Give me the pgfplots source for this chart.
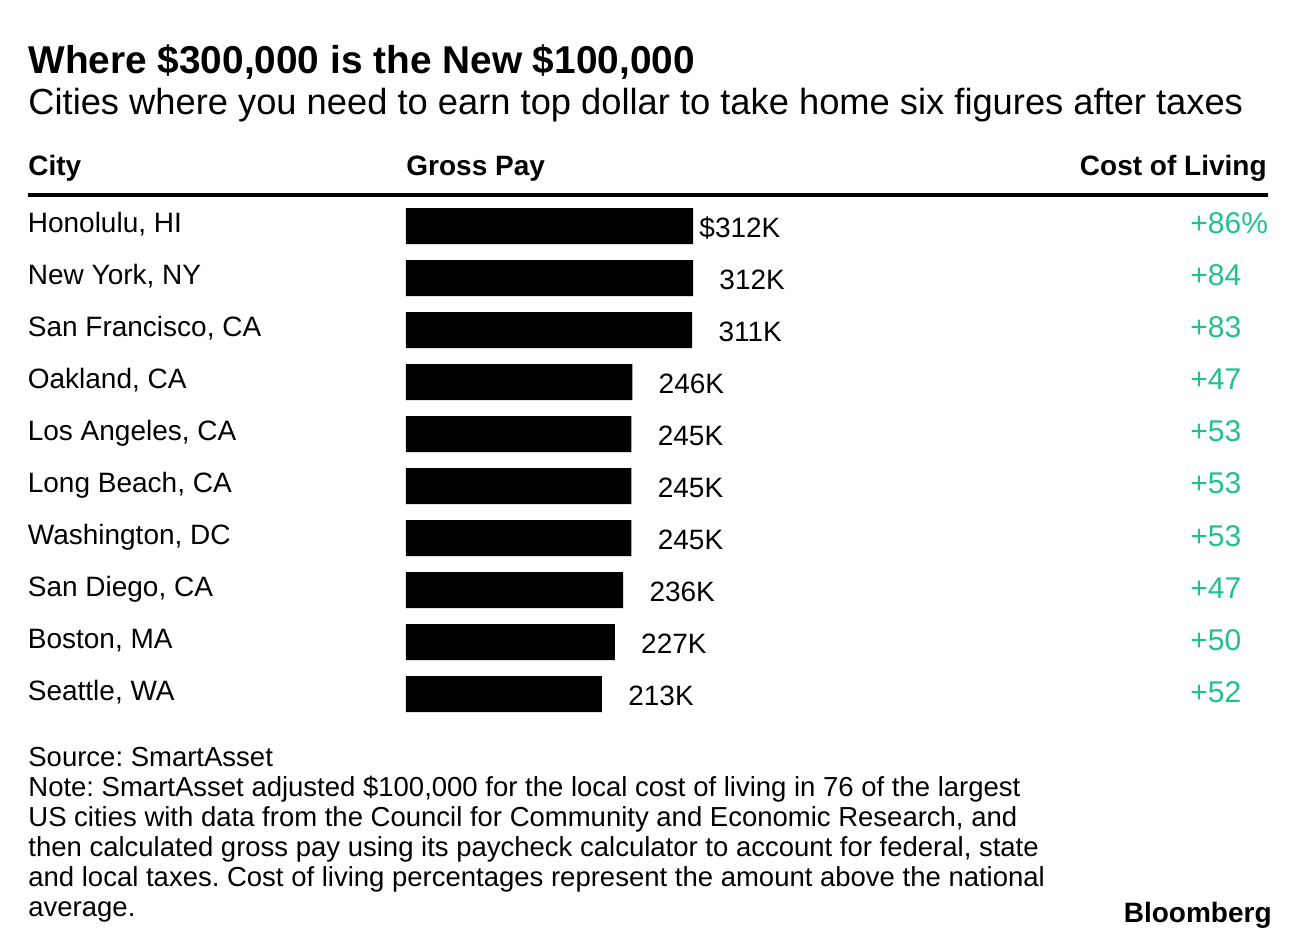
\documentclass[border=0pt]{standalone}
\usepackage{pgfplots}
\pgfplotsset{compat=1.18}
\usepackage{fontspec}
\setmainfont{Liberation Sans}
\definecolor{colgreen}{HTML}{1FC28A}

% gross pay in thousands of dollars, rows top to bottom
\pgfplotstableread{
y x lab
1 312 \$312K
2 312 \hspace*{10pt}312K
3 311 \hspace*{10pt}311K
4 246 \hspace*{10pt}246K
5 245 \hspace*{10pt}245K
6 245 \hspace*{10pt}245K
7 245 \hspace*{10pt}245K
8 236 \hspace*{10pt}236K
9 227 \hspace*{10pt}227K
10 213 \hspace*{10pt}213K
}\paytable

\begin{document}
\frenchspacing
\begin{tikzpicture}[x=0.5pt,y=-0.5pt]
\path[use as bounding box] (0,0) rectangle (1296,946);

% titles
\node[anchor=base west, inner sep=0pt, font=\bfseries\fontsize{19.4}{19.4}\selectfont]
  at (28,74) {Where \$300,000 is the New \$100,000};
\node[anchor=base west, inner sep=0pt, font=\fontsize{18.15}{18.15}\selectfont]
  at (28,115) {Cities where you need to earn top dollar to take home six figures after taxes};

% column heads
\node[anchor=base west, inner sep=0pt, font=\bfseries\fontsize{14}{14}\selectfont] at (28,176) {City};
\node[anchor=base west, inner sep=0pt, font=\bfseries\fontsize{14}{14}\selectfont] at (406,176) {Gross Pay};
\node[anchor=base east, inner sep=0pt, font=\bfseries\fontsize{14}{14}\selectfont] at (1267,176) {Cost of Living};
\draw[line width=2pt] (28,195) -- (1268,195);

\begin{axis}[
  at={(203pt,-100pt)}, anchor=north west,
  scale only axis, width=184pt, height=260pt,
  xbar, bar width=18pt, bar shift=0pt,
  xmin=0, xmax=400, ymin=0.5, ymax=10.5, y dir=reverse,
  axis line style={draw=none}, tick style={draw=none},
  xtick=\empty,
  ytick={1,...,10},
  yticklabels={{Honolulu, HI},{New York, NY},{San Francisco, CA},{Oakland, CA},
    {Los Angeles, CA},{Long Beach, CA},{Washington, DC},{San Diego, CA},
    {Boston, MA},{Seattle, WA}},
  yticklabel style={anchor=base west, inner sep=0pt, xshift=-185pt, yshift=-3pt,
    font=\fontsize{14}{14}\selectfont},
  nodes near coords, point meta=explicit symbolic,
  every node near coord/.append style={anchor=west, inner sep=0pt, xshift=3pt,
    yshift=-1pt, font=\fontsize{14}{14}\selectfont, text=black},
  clip=false,
]
\addplot[fill=black, draw=none] table[x=x, y=y, meta=lab] {\paytable};
\end{axis}

% cost of living above national average
\foreach \v [count=\i] in {+86\%,+84,+83,+47,+53,+53,+53,+47,+50,+52} {
  \node[anchor=base west, inner sep=0pt, text=colgreen, font=\fontsize{15}{15}\selectfont]
    at (1190,{226+52*(\i-1)+8}) {\v};
}

% source and note
\begin{scope}[every node/.style={anchor=base west, inner sep=0pt, font=\fontsize{13.75}{13.75}\selectfont}]
\node at (28,766) {Source: SmartAsset};
\node at (28,796) {Note: SmartAsset adjusted \$100,000 for the local cost of living in 76 of the largest};
\node at (28,826) {US cities with data from the Council for Community and Economic Research, and};
\node at (28,856) {then calculated gross pay using its paycheck calculator to account for federal, state};
\node at (28,886) {and local taxes. Cost of living percentages represent the amount above the national};
\node at (28,916) {average.};
\end{scope}
\node[anchor=base east, inner sep=0pt, font=\bfseries\fontsize{14}{14}\selectfont] at (1272,922) {Bloomberg};
\end{tikzpicture}
\end{document}
